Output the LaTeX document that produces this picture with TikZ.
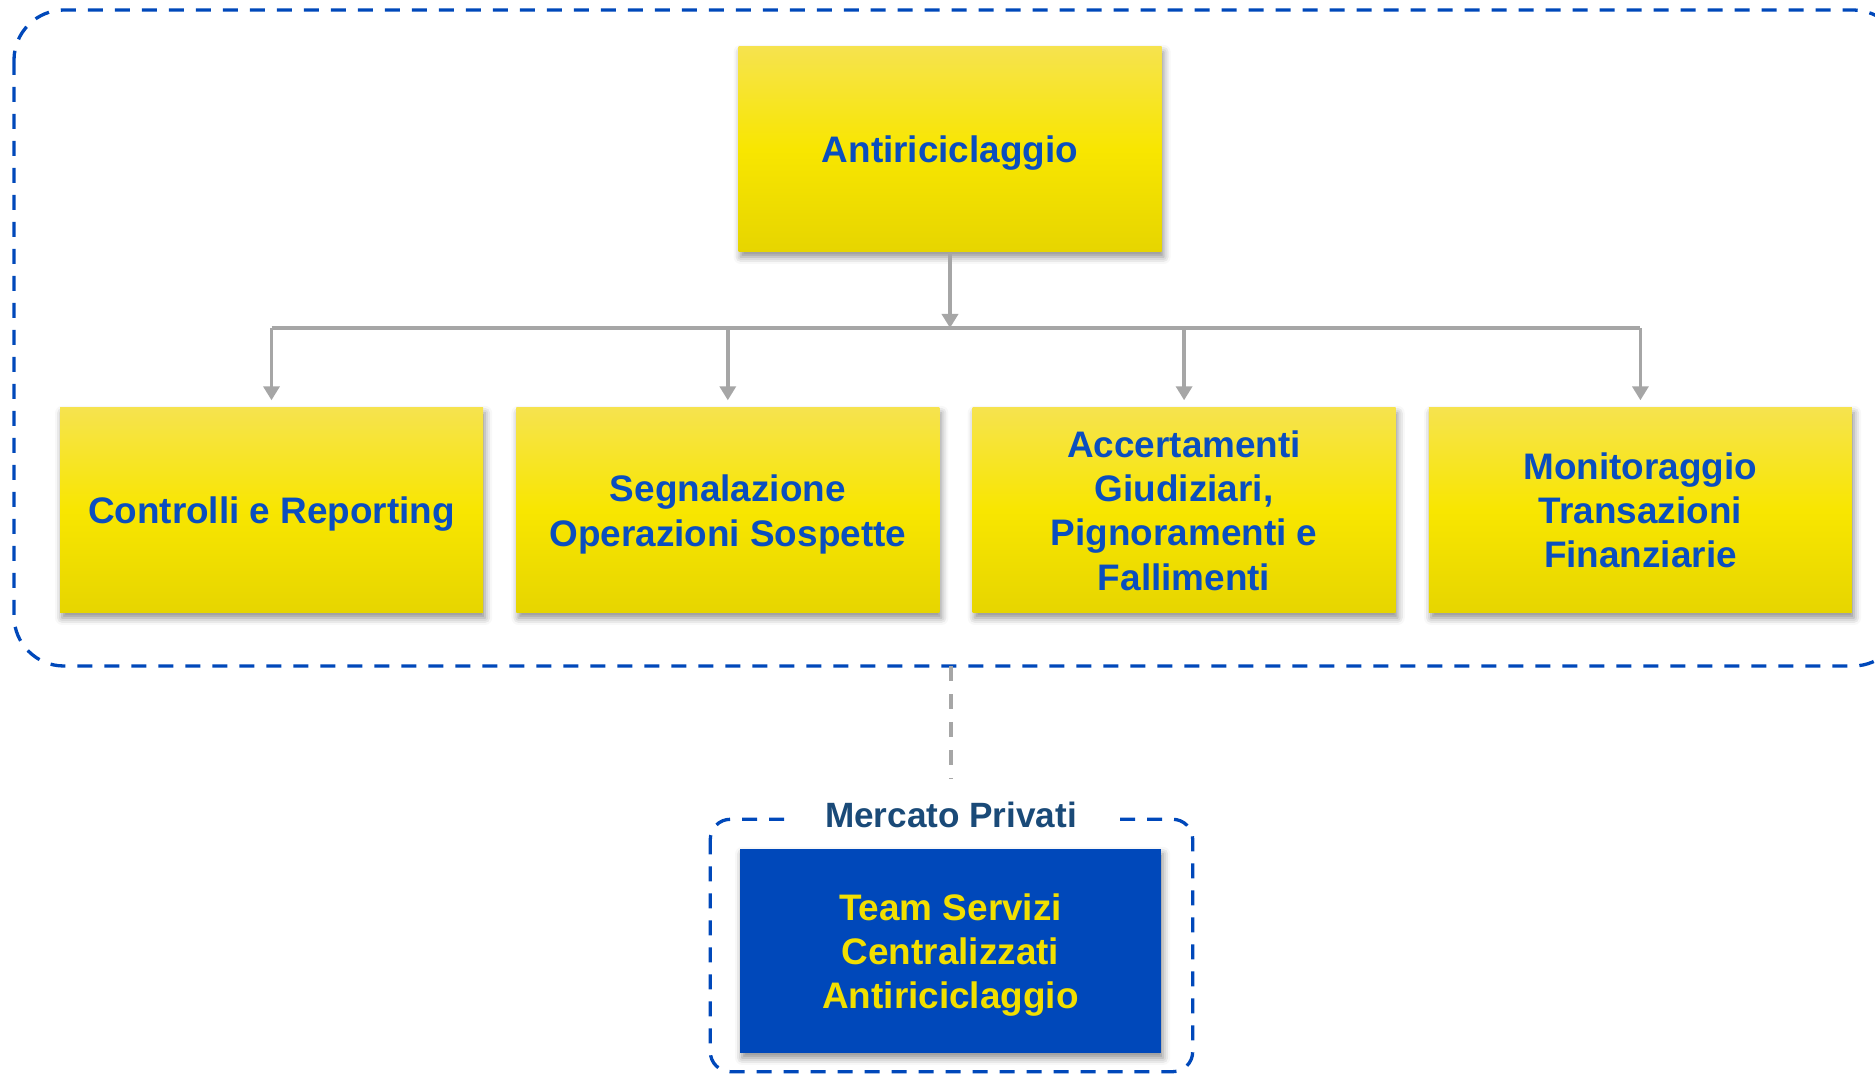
\documentclass[tikz,border=0pt]{standalone}
\usepackage{fontspec}
\setmainfont{Liberation Sans}
\usepackage{xcolor}
\usepackage{tikz}
\usetikzlibrary{positioning,arrows.meta,calc}
\usetikzlibrary{shadows.blur}
\definecolor{amlblue}{HTML}{0048BA}
\definecolor{amltext}{HTML}{0A4EBF}
\definecolor{amlyellow}{HTML}{F8E600}
\definecolor{amlytop}{HTML}{F6E34E}
\definecolor{amlybot}{HTML}{E6D500}
\definecolor{amlgray}{HTML}{A6A6A6}
\definecolor{amlnavy}{HTML}{1A4A78}
\definecolor{teamtext}{HTML}{F2DF00}
\tikzstyle{unit} = [rectangle, minimum width=4.23cm, minimum height=2.05cm, inner sep=2pt,
    align=center, text=amltext, font=\bfseries\fontsize{10.5}{12.6}\selectfont,
    top color=amlytop, bottom color=amlybot, middle color=amlyellow,
    blur shadow={shadow xshift=0.6pt, shadow yshift=-1.4pt, shadow blur radius=2pt, shadow opacity=45}]
\tikzstyle{team} = [rectangle, minimum width=4.21cm, minimum height=2.04cm, inner sep=2pt,
    align=center, fill=amlblue, text=teamtext, font=\bfseries\fontsize{10.5}{12.6}\selectfont,
    blur shadow={shadow xshift=0.6pt, shadow yshift=-1.4pt, shadow blur radius=2pt, shadow opacity=45}]
\tikzstyle{sunk} = [text depth=-0.7pt]
\tikzstyle{frame} = [draw=amlblue, line width=0.033cm, dash pattern=on 0.15cm off 0.12cm]
\tikzstyle{link} = [draw=amlgray, line width=0.035cm, dash pattern=on 0.15cm off 0.13cm]
\tikzstyle{arrow} = [draw=amlgray, line width=0.035cm, -{Triangle[width=0.16cm,length=0.14cm]}]

\begin{document}
\begin{tikzpicture}
\useasboundingbox (0,0) rectangle (18.75,-10.74);
% dashed group round the unit
\draw[frame, rounded corners=0.5cm] (0.14,-0.10) rectangle (19.03,-6.66);
\node[unit, sunk] (aml) at (9.50,-1.495) {Antiriciclaggio};
\node[unit, sunk] (ctrl) at (2.715,-5.105) {Controlli e Reporting};
\node[unit, sunk, right=0.319cm of ctrl] (sos) {Segnalazione\\Operazioni Sospette};
\node[unit, right=0.319cm of sos] (acc) {Accertamenti\\Giudiziari,\\Pignoramenti e\\Fallimenti};
\node[unit, right=0.319cm of acc] (mon) {Monitoraggio\\Transazioni\\Finanziarie};
% connectors
\coordinate (bus) at (9.50,-3.28);
\draw[arrow] (aml.south) -- (aml.south |- bus);
\draw[amlgray, line width=0.035cm] (ctrl.north |- bus) -- (mon.north |- bus);
\foreach \n in {ctrl,sos,acc,mon}
  \draw[arrow, shorten >=0.07cm] (\n.north |- bus) -- (\n.north);
% Mercato Privati
\node[team, sunk] (team) at (9.505,-9.51) {Team Servizi\\Centralizzati\\Antiriciclaggio};
\draw[frame, rounded corners=0.2cm] ($(team.north west)+(-0.29,0.29)$) rectangle ($(team.south east)+(0.31,-0.18)$);
\node[fill=white, text=amlnavy, font=\bfseries\fontsize{10}{12}\selectfont,
      inner xsep=0.33cm, inner ysep=1pt, anchor=base] (mkt) at (9.51,-8.27) {Mercato Privati};
\coordinate (grpbot) at (9.51,-6.66);
\coordinate (mkttop) at (9.51,-7.79);
\draw[link] (grpbot) -- (mkttop);
\end{tikzpicture}
\end{document}
